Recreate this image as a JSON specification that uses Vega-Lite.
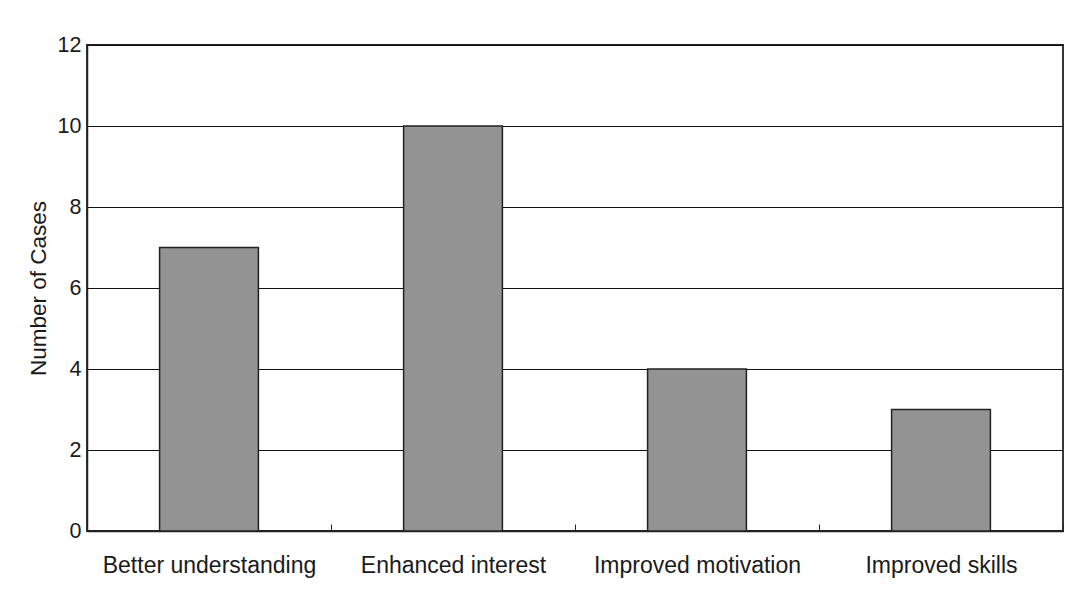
{
  "$schema": "https://vega.github.io/schema/vega-lite/v6.json",
  "width": 976,
  "height": 486,
  "autosize": {"type": "none"},
  "padding": {"left": 87, "top": 45, "right": 4, "bottom": 61},
  "background": "white",
  "data": {
    "values": [
      {"category": "Better understanding", "cases": 7},
      {"category": "Enhanced interest", "cases": 10},
      {"category": "Improved motivation", "cases": 4},
      {"category": "Improved skills", "cases": 3}
    ]
  },
  "mark": {"type": "bar", "width": {"band": 0.405}, "fill": "#939393", "stroke": "#222222", "strokeWidth": 1.5},
  "encoding": {
    "x": {
      "field": "category",
      "type": "nominal",
      "sort": null,
      "scale": {"paddingInner": 0, "paddingOuter": 0},
      "axis": {
        "title": null,
        "labelAngle": 0,
        "labelLimit": 0,
        "tickBand": "extent",
        "ticks": true,
        "tickSize": -7,
        "tickColor": "#222222",
        "tickWidth": 1,
        "labelPadding": 30,
        "labelFont": "Liberation Sans",
        "labelFontSize": 23,
        "labelColor": "#1a1a1a",
        "domainColor": "#222222",
        "domainWidth": 1.5,
        "grid": false
      }
    },
    "y": {
      "field": "cases",
      "type": "quantitative",
      "scale": {"domain": [0, 12]},
      "axis": {
        "title": "Number of Cases",
        "titleFont": "Liberation Sans",
        "titleFontSize": 22.5,
        "titleFontWeight": "normal",
        "titleColor": "#1a1a1a",
        "titlePadding": 7,
        "values": [0, 2, 4, 6, 8, 10, 12],
        "ticks": false,
        "labelPadding": 6,
        "labelFont": "Liberation Sans",
        "labelFontSize": 21.5,
        "labelColor": "#1a1a1a",
        "domainColor": "#222222",
        "domainWidth": 1.5,
        "grid": true,
        "gridColor": "#111111",
        "gridWidth": 1.2,
        "gridOpacity": 1
      }
    }
  },
  "config": {
    "view": {"stroke": "#222222", "strokeWidth": 1.8}
  }
}
